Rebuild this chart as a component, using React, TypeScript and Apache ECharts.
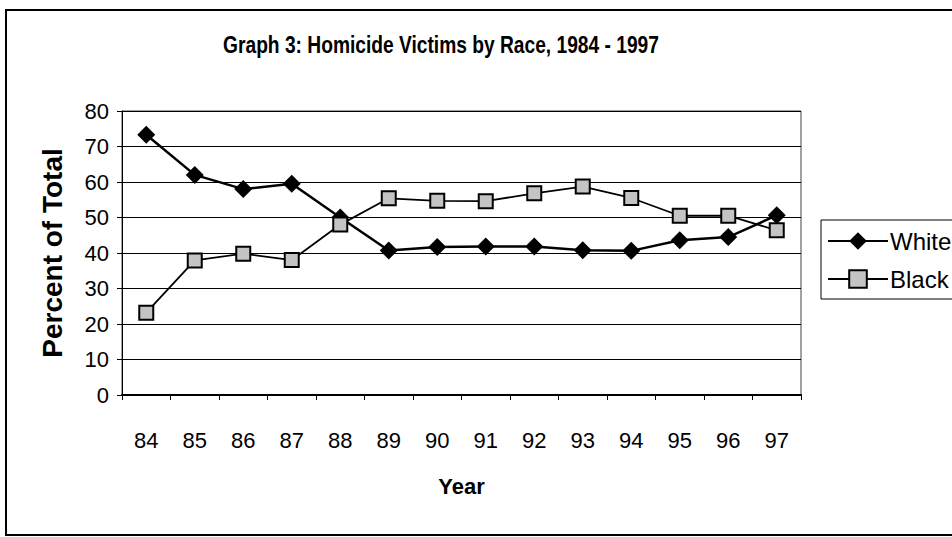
import React, { useEffect, useRef } from "react";
import * as echarts from "echarts";

const years = ["84", "85", "86", "87", "88", "89", "90", "91", "92", "93", "94", "95", "96", "97"];
const whiteVictims = [73.3, 62, 58, 59.5, 50, 40.7, 41.7, 41.8, 41.8, 40.8, 40.6, 43.6, 44.5, 50.6];
const blackVictims = [23.2, 37.9, 39.8, 38, 48, 55.4, 54.7, 54.6, 56.8, 58.7, 55.5, 50.5, 50.5, 46.4];
const yTicks = { min: 0, max: 80, interval: 10 };
const titleText = "Graph 3: Homicide Victims by Race, 1984 - 1997";

const FONT = "'Liberation Sans', Arial, sans-serif";

export default function App() {
  const ref = useRef<HTMLDivElement>(null);
  useEffect(() => {
    if (!ref.current) return;
    const chart = echarts.init(ref.current, null, { renderer: "svg" });
    chart.setOption({
      animation: false,
      backgroundColor: "#ffffff",
      graphic: [
        {
          type: "rect",
          shape: { x: 6, y: 10, width: 1000, height: 525 },
          style: { fill: "none", stroke: "#000", lineWidth: 2 },
          silent: true,
        },
        {
          type: "text",
          x: 441,
          y: 45,
          scaleX: 0.8,
          style: {
            text: titleText,
            fontFamily: FONT,
            fontSize: 24,
            fontWeight: "bold",
            fill: "#000",
            align: "center",
            verticalAlign: "middle",
          },
          silent: true,
        },
      ],
      legend: {
        left: 821,
        top: 220,
        orient: "vertical",
        padding: [9, 20, 8, 6],
        itemGap: 14,
        itemWidth: 60,
        itemHeight: 22,
        borderColor: "#000",
        borderWidth: 1,
        backgroundColor: "#fff",
        textStyle: {
          fontFamily: FONT,
          fontSize: 24,
          color: "#000",
          padding: [0, 0, 0, -3],
        },
        data: ["White", "Black"],
      },
      grid: {
        left: 122,
        right: 151,
        top: 111,
        bottom: 142,
        show: true,
        borderColor: "#444",
        borderWidth: 1,
      },
      xAxis: {
        type: "category",
        data: years,
        boundaryGap: true,
        name: "Year",
        nameLocation: "middle",
        nameGap: 80,
        nameTextStyle: {
          fontFamily: FONT,
          fontSize: 22,
          fontWeight: "bold",
          color: "#000",
        },
        axisLine: { lineStyle: { color: "#000", width: 2 } },
        axisTick: { show: true, length: 5, interval: 0, lineStyle: { color: "#000" } },
        axisLabel: {
          margin: 34,
          fontFamily: FONT,
          fontSize: 22,
          color: "#000",
        },
      },
      yAxis: {
        type: "value",
        min: yTicks.min,
        max: yTicks.max,
        interval: yTicks.interval,
        name: "Percent of Total",
        nameLocation: "middle",
        nameGap: 56,
        nameTextStyle: {
          fontFamily: FONT,
          fontSize: 28,
          fontWeight: "bold",
          color: "#000",
        },
        axisLine: { show: true, lineStyle: { color: "#000", width: 1 } },
        axisTick: { show: true, length: 5, lineStyle: { color: "#000" } },
        axisLabel: {
          margin: 13,
          fontFamily: FONT,
          fontSize: 22,
          color: "#000",
        },
        splitLine: { show: true, lineStyle: { color: "#000", width: 1 } },
      },
      series: [
        {
          name: "White",
          type: "line",
          data: whiteVictims,
          symbol: "diamond",
          symbolSize: 18,
          lineStyle: { color: "#000", width: 2.5 },
          itemStyle: { color: "#000" },
          z: 3,
        },
        {
          name: "Black",
          type: "line",
          data: blackVictims,
          symbol: "rect",
          symbolSize: 14,
          lineStyle: { color: "#000", width: 1.8 },
          itemStyle: { color: "#c4c4c4", borderColor: "#000", borderWidth: 2 },
          z: 4,
        },
      ],
    });
    return () => chart.dispose();
  }, []);
  return (
    <div
      ref={ref}
      style={{ position: "fixed", left: 0, top: 0, width: 952, height: 537 }}
    />
  );
}
